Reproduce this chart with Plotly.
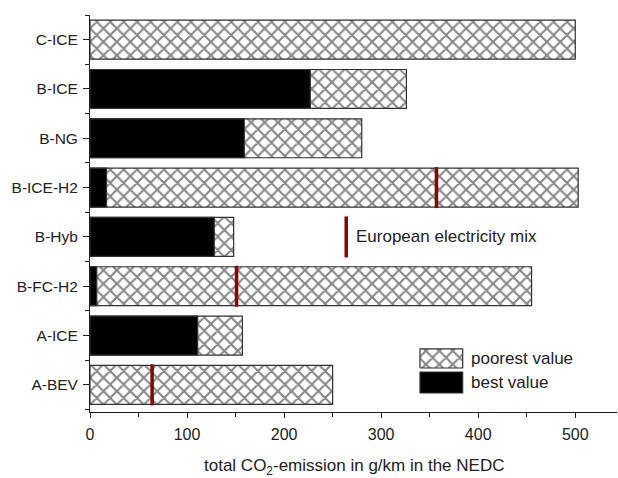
import plotly.graph_objects as go

# Vehicle concepts, bottom to top
vehicles = ["A-BEV", "A-ICE", "B-FC-H2", "B-Hyb", "B-ICE-H2", "B-NG", "B-ICE", "C-ICE"]
# total CO2 emission in g/km (NEDC)
poorest_value = [250, 157, 455, 148, 503, 280, 326, 500]
best_value = [None, 111, 7, 128, 17, 159, 227, None]
# European electricity mix markers
eu_mix_vehicles = ["A-BEV", "B-FC-H2", "B-ICE-H2"]
eu_mix_value = [64, 151, 357]
x_tick_values = [0, 100, 200, 300, 400, 500]

FONT = "Arial, Liberation Sans, sans-serif"
HATCH = dict(shape="x", size=9.5, solidity=0.4, fgcolor="#111111", bgcolor="white")
RED = "#8b0000"
BAR_W = 0.79

ypos = list(range(len(vehicles)))

fig = go.Figure()

fig.add_trace(go.Bar(
    y=ypos, x=poorest_value, orientation="h", width=BAR_W,
    marker=dict(color="white", line=dict(color="#333333", width=1.2), pattern=HATCH),
    showlegend=False, name="poorest value",
))
fig.add_trace(go.Bar(
    y=ypos, x=best_value, orientation="h", width=BAR_W,
    marker=dict(color="black", line=dict(color="#333333", width=1.2)),
    showlegend=False, name="best value",
))

# electricity-mix markers across the bars
mx, my = [], []
half = BAR_W / 2 + 0.02
for v, val in zip(eu_mix_vehicles, eu_mix_value):
    i = vehicles.index(v)
    mx += [val, val, None]
    my += [i - half, i + half, None]
fig.add_trace(go.Scatter(x=mx, y=my, mode="lines", line=dict(color=RED, width=3.5),
                         showlegend=False, hoverinfo="skip"))

# key for the electricity-mix marker
key_x = 264
fig.add_trace(go.Scatter(x=[key_x, key_x], y=[3 - half, 3 + half], mode="lines",
                         line=dict(color=RED, width=3.5), showlegend=False, hoverinfo="skip"))
fig.add_annotation(x=key_x + 8, y=3, xref="x", yref="y", text="European electricity mix",
                   showarrow=False, xanchor="left", yanchor="middle",
                   font=dict(family=FONT, size=17, color="#222222"))

# key for the bar fills
kx0, kx1 = 340, 384
fig.add_trace(go.Scatter(
    x=[kx0, kx1, kx1, kx0, kx0], y=[0.342, 0.342, 0.728, 0.728, 0.342],
    mode="lines", fill="toself", fillcolor="white", fillpattern=HATCH,
    line=dict(color="#333333", width=1.2), showlegend=False, hoverinfo="skip"))
fig.add_trace(go.Scatter(
    x=[kx0, kx1, kx1, kx0, kx0], y=[-0.165, -0.165, 0.261, 0.261, -0.165],
    mode="lines", fill="toself", fillcolor="black",
    line=dict(color="#333333", width=1.2), showlegend=False, hoverinfo="skip"))
fig.add_annotation(x=kx1 + 6, y=0.535, xref="x", yref="y", text="poorest value",
                   showarrow=False, xanchor="left", yanchor="middle",
                   font=dict(family=FONT, size=17, color="#222222"))
fig.add_annotation(x=kx1 + 6, y=0.04, xref="x", yref="y", text="best value",
                   showarrow=False, xanchor="left", yanchor="middle",
                   font=dict(family=FONT, size=17, color="#222222"))

# axis title
fig.add_annotation(x=0.5, y=-0.1385, xref="paper", yref="paper",
                   text="total CO<sub>2</sub>-emission in g/km in the NEDC",
                   showarrow=False, xanchor="center", yanchor="middle",
                   font=dict(family=FONT, size=17, color="#222222"))

fig.update_layout(
    width=618, height=478,
    margin=dict(l=90, r=1, t=15, b=66),
    paper_bgcolor="white", plot_bgcolor="white",
    barmode="overlay",
    font=dict(family=FONT, size=15, color="#222222"),
    xaxis=dict(
        range=[0, 543], tickvals=x_tick_values, showgrid=False, zeroline=False,
        showline=True, linecolor="#222222", linewidth=1,
        ticks="outside", ticklen=5, tickcolor="#222222", ticklabelstandoff=3,
        minor=dict(dtick=50, tick0=0, ticks="outside", ticklen=4, tickcolor="#222222", showgrid=False),
        tickfont=dict(family=FONT, size=16, color="#222222"),
    ),
    yaxis=dict(
        range=[-0.55, 7.5], tickvals=ypos, ticktext=vehicles, showgrid=False, zeroline=False,
        showline=True, linecolor="#222222", linewidth=1,
        ticks="outside", ticklen=6, tickcolor="#222222", ticklabelstandoff=2,
        minor=dict(dtick=1, tick0=0.5, ticks="outside", ticklen=4, tickcolor="#222222", showgrid=False),
        tickfont=dict(family=FONT, size=15.5, color="#222222"),
    ),
)

fig.write_html("out.html")
